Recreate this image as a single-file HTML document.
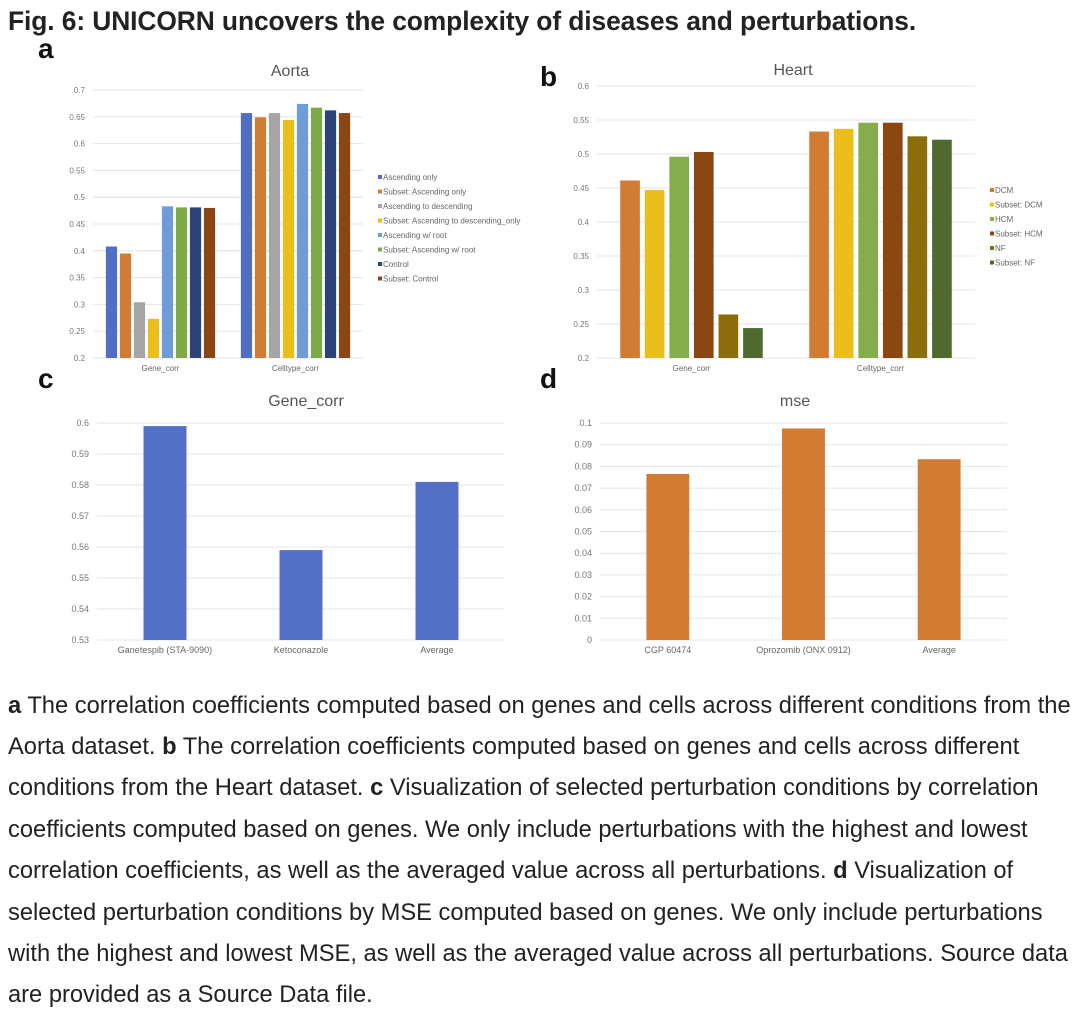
<!DOCTYPE html>
<html><head><meta charset="utf-8"><style>
body{margin:0;background:#fff;width:1080px;height:1020px;overflow:hidden;font-family:"Liberation Sans",sans-serif;}
#title{position:absolute;left:8px;top:6px;font-size:26.4px;font-weight:bold;color:#222;letter-spacing:-0.1px}
.cap{position:absolute;left:8px;font-size:23.7px;color:#222;white-space:nowrap}
svg text{font-family:"Liberation Sans",sans-serif}
</style></head><body>
<div id="title">Fig. 6: UNICORN uncovers the complexity of diseases and perturbations.</div>
<svg id="chart" width="1080" height="670" style="position:absolute;left:0;top:0"></svg>
<div>
<div class="cap" style="top:693px"><b>a</b> The correlation coefficients computed based on genes and cells across different conditions from the</div>
<div class="cap" style="top:734px">Aorta dataset. <b>b</b> The correlation coefficients computed based on genes and cells across different</div>
<div class="cap" style="top:775px">conditions from the Heart dataset. <b>c</b> Visualization of selected perturbation conditions by correlation</div>
<div class="cap" style="top:817px">coefficients computed based on genes. We only include perturbations with the highest and lowest</div>
<div class="cap" style="top:858px">correlation coefficients, as well as the averaged value across all perturbations. <b>d</b> Visualization of</div>
<div class="cap" style="top:900px">selected perturbation conditions by MSE computed based on genes. We only include perturbations</div>
<div class="cap" style="top:941px">with the highest and lowest MSE, as well as the averaged value across all perturbations. Source data</div>
<div class="cap" style="top:982px">are provided as a Source Data file.</div>
</div>
<script>
const aCats=["Gene_corr","Celltype_corr"];
const aSeries=["Ascending only","Subset: Ascending only","Ascending to descending","Subset: Ascending to descending_only","Ascending w/ root","Subset: Ascending w/ root","Control","Subset: Control"];
const aGene=[0.408,0.395,0.304,0.273,0.483,0.481,0.481,0.480];
const aCell=[0.657,0.649,0.657,0.644,0.674,0.667,0.662,0.657];
const aTicks=["0.2","0.25","0.3","0.35","0.4","0.45","0.5","0.55","0.6","0.65","0.7"];
const bCats=["Gene_corr","Celltype_corr"];
const bSeries=["DCM","Subset: DCM","HCM","Subset: HCM","NF","Subset: NF"];
const bGene=[0.461,0.447,0.496,0.503,0.264,0.244];
const bCell=[0.533,0.537,0.546,0.546,0.526,0.521];
const bTicks=["0.2","0.25","0.3","0.35","0.4","0.45","0.5","0.55","0.6"];
const cCats=["Ganetespib (STA-9090)","Ketoconazole","Average"];
const cVals=[0.599,0.559,0.581];
const cTicks=["0.53","0.54","0.55","0.56","0.57","0.58","0.59","0.6"];
const dCats=["CGP 60474","Oprozomib (ONX 0912)","Average"];
const dVals=[0.0765,0.0975,0.0833];
const dTicks=["0","0.01","0.02","0.03","0.04","0.05","0.06","0.07","0.08","0.09","0.1"];

const aColors=["#4f6fc4","#d27b32","#a5a5a5","#eabf1c","#6f9bd6","#7daa46","#2c4378","#8b4711"];
const bColors=["#d27b32","#eabf1c","#86ad4c","#8b4711","#8c6d0c","#4f6a2e"];
const svg=document.getElementById('chart');
const NS="http://www.w3.org/2000/svg";
function mk(tag,attrs,txt){const e=document.createElementNS(NS,tag);for(const k in attrs)e.setAttribute(k,attrs[k]);if(txt!==undefined)e.textContent=txt;svg.appendChild(e);return e;}

function panel(o){
  const y=v=>o.y0-(v-o.min)/(o.max-o.min)*(o.y0-o.y1);
  o.ticks.forEach(t=>{
    const v=parseFloat(t);
    const g=mk('line',{x1:o.x0,x2:o.x1,y1:y(v),y2:y(v),stroke:'#e4e4e4','stroke-width':1});
    
    
    const tl=mk('text',{x:o.x0-8,y:y(v)+3,'font-size':o.tfs,fill:'#777','text-anchor':'end'},t);
    
    
  });
  const ttl=mk('text',{x:o.tx,y:o.ty,'font-size':16,fill:'#555','text-anchor':'middle'},o.title);
  
  
  const nc=o.cats.length, cw=(o.x1-o.x0)/nc;
  o.cats.forEach((c,i)=>{
    const vals=o.vals[i];
    const ns=vals.length;
    const gw=cw*o.gfrac, bw=gw/ns;
    const gx=o.x0+cw*i+(cw-gw)/2;
    vals.forEach((v,j)=>{
      const r=mk('rect',{x:gx+j*bw+bw*o.gap/2,y:y(v),width:bw*(1-o.gap),height:y(o.min)-y(v),fill:o.colors[j%o.colors.length]});
      
      
    });
    const cl=mk('text',{x:o.x0+cw*i+cw/2,y:o.y0+13,'font-size':o.cfs,fill:'#666','text-anchor':'middle'},c);
    
    
  });
  if(o.legend){
    o.legend.forEach((s,i)=>{
      const ly=o.ly+i*o.lstep;
      const sw=mk('rect',{x:o.lx,y:ly-5,width:4,height:4,fill:o.colors[i]});
      
      
      const lt=mk('text',{x:o.lx+5,y:ly,'font-size':8,fill:'#666'},s);
      
      
    });
  }
}
panel({x0:93,x1:363,y0:358,y1:90,min:0.2,max:0.7,ticks:aTicks,cats:aCats,vals:[aGene,aCell],colors:aColors,gfrac:0.83,gap:0.2,title:"Aorta",tx:290,ty:76,tfs:8,cfs:8,legend:aSeries,lx:378,ly:180,lstep:14.5});
panel({x0:597,x1:975,y0:358,y1:86,min:0.2,max:0.6,ticks:bTicks,cats:bCats,vals:[bGene,bCell],colors:bColors,gfrac:0.78,gap:0.2,title:"Heart",tx:793,ty:75,tfs:8,cfs:8,legend:bSeries,lx:990,ly:193,lstep:14.5});
panel({x0:97,x1:505,y0:640,y1:423,min:0.53,max:0.6,ticks:cTicks,cats:cCats,vals:[[cVals[0]],[cVals[1]],[cVals[2]]],colors:["#5470c6"],gfrac:0.316,gap:0,title:"Gene_corr",tx:306,ty:406,tfs:9,cfs:9});
panel({x0:600,x1:1007,y0:640,y1:423,min:0,max:0.1,ticks:dTicks,cats:dCats,vals:[[dVals[0]],[dVals[1]],[dVals[2]]],colors:["#d27b32"],gfrac:0.316,gap:0,title:"mse",tx:795,ty:406,tfs:9,cfs:9});
[["a",38,58],["b",540,86],["c",38,388],["d",540,388]].forEach(p=>{
  const t=mk('text',{x:p[1],y:p[2],'font-size':28,'font-weight':'bold',fill:'#111'},p[0]);
  
  
});
</script>
</body></html>
